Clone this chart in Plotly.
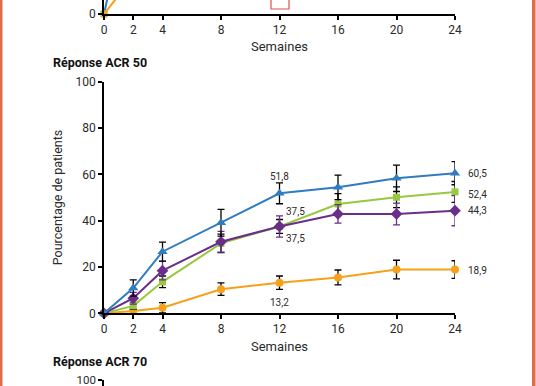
import plotly.graph_objects as go

# ---------------- data ----------------
weeks = [0, 2, 4, 8, 12, 16, 20, 24]
tick_weeks = [0, 2, 4, 8, 12, 16, 20, 24]
y_ticks = [0, 20, 40, 60, 80, 100]

acr50_blue = [0, 10.9, 26.6, 39.1, 51.8, 54.4, 58.3, 60.5]
acr50_blue_err = [0, 3.5, 4.1, 5.8, 4.5, 5.3, 5.7, 5.0]
acr50_green = [0, 3.2, 13.6, 30.2, 37.5, 47.2, 50.1, 52.4]
acr50_green_err = [0, 1.5, 2.5, 4.0, 3.0, 4.5, 4.5, 4.5]
acr50_purple = [0, 6.5, 18.4, 30.9, 37.5, 42.9, 42.9, 44.3]
acr50_purple_err = [0, 2.5, 4.0, 4.5, 4.6, 4.0, 4.7, 6.5]
acr50_orange = [0, 1.0, 2.4, 10.4, 13.2, 15.5, 18.9, 18.9]
acr50_orange_err = [0, 1.0, 2.2, 2.7, 2.9, 3.2, 4.0, 3.8]

# remnants of the upper (ACR 20) panel, only its first segment is visible
top_weeks = [0, 2]
acr20_blue = [0, 58]
acr20_orange = [0, 16]
acr20_green = [0]

labels = [  # text, series, week index, xshift, yshift, xanchor
    ("51,8", "blue", 4, 0, 17, "center"),
    ("37,5", "green", 4, 16, 15, "center"),
    ("37,5", "purple", 4, 16, -12, "center"),
    ("13,2", "orange", 4, 0, -20, "center"),
    ("60,5", "blue", 7, 11, 0, "left"),
    ("52,4", "green", 7, 11, -3, "left"),
    ("44,3", "purple", 7, 11, 0, "left"),
    ("18,9", "orange", 7, 11, -1, "left"),
]

# ---------------- style ----------------
W, H = 536, 386
C = {"blue": "#2f7cc1", "green": "#97c93d", "purple": "#6a2d8a", "orange": "#f5a11c"}
FONT = "Roboto"
TXT = "#2a2a2a"


def px_x(p):
    return p / W


def px_y(p):
    return 1 - p / H


xdom = [px_x(104), px_x(455)]
series = {
    "blue": (acr50_blue, acr50_blue_err, "triangle-up", 9, "black"),
    "green": (acr50_green, acr50_green_err, "square", 7, "black"),
    "purple": (acr50_purple, acr50_purple_err, "diamond", 9, C["purple"]),
    "orange": (acr50_orange, acr50_orange_err, "circle", 8, "black"),
}

fig = go.Figure()

# main panel: ACR 50
for name in ["orange", "green", "purple", "blue"]:
    vals, err, sym, size, ecol = series[name]
    fig.add_trace(go.Scatter(
        x=weeks, y=vals, mode="lines+markers", cliponaxis=False,
        line=dict(color=C[name], width=2),
        marker=dict(symbol=sym, size=size, color=C[name]),
        error_y=dict(type="data", array=err, visible=True, color=ecol,
                     thickness=1.3, width=3.5),
        xaxis="x", yaxis="y", showlegend=False, hoverinfo="skip",
    ))

# upper panel remnants
fig.add_trace(go.Scatter(x=top_weeks, y=acr20_blue, mode="lines",
                         line=dict(color=C["blue"], width=2),
                         xaxis="x2", yaxis="y2", showlegend=False))
fig.add_trace(go.Scatter(x=top_weeks, y=acr20_orange, mode="lines",
                         line=dict(color=C["orange"], width=2),
                         xaxis="x2", yaxis="y2", showlegend=False))
fig.add_trace(go.Scatter(x=[0], y=acr20_green, mode="markers", cliponaxis=False,
                         marker=dict(symbol="square", size=7, color=C["green"]),
                         xaxis="x2", yaxis="y2", showlegend=False))
fig.add_trace(go.Scatter(x=[0], y=[0], mode="markers", cliponaxis=False,
                         marker=dict(symbol="circle", size=7, color=C["orange"]),
                         xaxis="x2", yaxis="y2", showlegend=False))
# lower panel (ACR 70) just starting
fig.add_trace(go.Scatter(x=[None], y=[None], xaxis="x3", yaxis="y3",
                         showlegend=False))

tickfont = dict(family=FONT, size=12, color=TXT)
axis_common = dict(showline=True, linecolor="black", linewidth=1.5,
                   ticks="outside", ticklen=4, tickwidth=1.5, tickcolor="black",
                   showgrid=False, zeroline=False, tickfont=tickfont,
                   automargin=False, ticklabeloverflow="allow")

xaxis_main = dict(axis_common, domain=xdom, range=[0, 24], tickvals=tick_weeks,
                  title=dict(text="Semaines", font=dict(family=FONT, size=13, color=TXT),
                             standoff=6))
fig.update_layout(
    width=W, height=H,
    margin=dict(l=0, r=0, t=0, b=0),
    paper_bgcolor="white", plot_bgcolor="white",
    xaxis=dict(xaxis_main, anchor="y"),
    yaxis=dict(axis_common, domain=[px_y(313.3), px_y(81.7)], range=[0, 100],
               tickvals=y_ticks, anchor="x",
               title=dict(text="Pourcentage de patients",
                          font=dict(family=FONT, size=12.5, color=TXT), standoff=10)),
    xaxis2=dict(xaxis_main, anchor="y2"),
    yaxis2=dict(axis_common, domain=[px_y(14), 1], range=[0, 14 / 2.316],
                tickvals=[0], anchor="x2"),
    xaxis3=dict(domain=xdom, range=[0, 24], visible=False, anchor="y3",
                automargin=False),
    yaxis3=dict(axis_common, domain=[0, px_y(379.5)],
                range=[100 - 6.5 / 2.316, 100.001], tickvals=[100], anchor="x3",
                tickfont=dict(family=FONT, size=11.5, color=TXT)),
)

# value labels
for text, name, idx, xs, ys, xa in labels:
    fig.add_annotation(x=weeks[idx], y=series[name][0][idx], xref="x", yref="y",
                       text=text, showarrow=False, xshift=xs, yshift=ys,
                       xanchor=xa, font=dict(family=FONT, size=10, color=TXT))

# panel titles
for text, py in [("Réponse ACR 50", 62), ("Réponse ACR 70", 361)]:
    fig.add_annotation(x=px_x(51), y=px_y(py), xref="paper", yref="paper",
                       text="<b>" + text + "</b>", showarrow=False,
                       xanchor="left", yanchor="middle",
                       font=dict(family=FONT, size=12.5, color="#111"))

# page frame and marker box
border = "#e46c45"
fig.add_shape(type="rect", xref="paper", yref="paper", x0=0, x1=px_x(2.5),
              y0=0, y1=1, line=dict(width=0), fillcolor=border)
fig.add_shape(type="rect", xref="paper", yref="paper", x0=px_x(532), x1=px_x(535.5),
              y0=0, y1=1, line=dict(width=0), fillcolor=border)
fig.add_shape(type="rect", xref="paper", yref="paper", x0=px_x(271), x1=px_x(289),
              y0=px_y(9), y1=1.02, line=dict(color="#e0504f", width=1.2),
              fillcolor="rgba(0,0,0,0)")

fig.write_html(
    "out.html",
    config={"displayModeBar": False},
    post_script="document.body.style.margin='0';document.body.style.overflow='hidden';",
)
